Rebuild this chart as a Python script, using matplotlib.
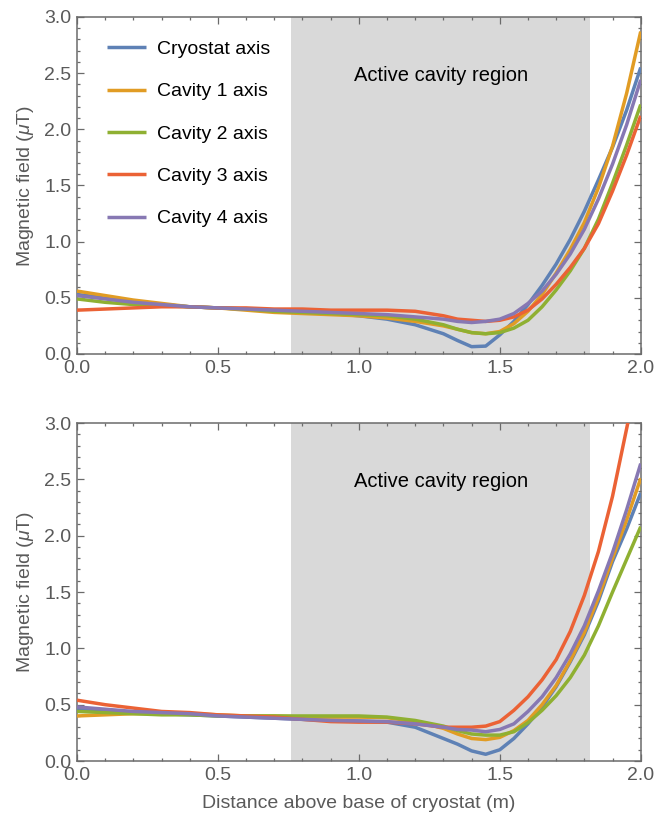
import matplotlib
matplotlib.use("Agg")
import matplotlib.pyplot as plt
from matplotlib.ticker import MultipleLocator
import numpy as np

plt.rcParams["font.family"] = ["Liberation Sans", "DejaVu Sans"]
plt.rcParams["mathtext.fontset"] = "custom"
plt.rcParams["mathtext.rm"] = "Liberation Sans"
plt.rcParams["mathtext.it"] = "Liberation Sans:italic"

# distance above base of cryostat (m)
dist = [0.0, 0.1, 0.2, 0.3, 0.4, 0.5, 0.6, 0.7, 0.8, 0.9, 1.0, 1.1, 1.2, 1.3,
        1.35, 1.4, 1.45, 1.5, 1.55, 1.6, 1.65, 1.7, 1.75, 1.8, 1.85, 1.9, 1.95, 2.0]

labels = ["Cryostat axis", "Cavity 1 axis", "Cavity 2 axis", "Cavity 3 axis", "Cavity 4 axis"]
colors = ["#5E81B5", "#E19C24", "#8FB032", "#EB6235", "#8778B3"]

# upper panel, field in uT
top_cryo = [0.53, 0.50, 0.46, 0.44, 0.42, 0.41, 0.40, 0.38, 0.37, 0.36, 0.34, 0.31, 0.26, 0.18,
            0.12, 0.065, 0.07, 0.17, 0.29, 0.44, 0.61, 0.80, 1.02, 1.27, 1.55, 1.84, 2.17, 2.55]
top_cav1 = [0.56, 0.52, 0.48, 0.45, 0.42, 0.41, 0.39, 0.37, 0.36, 0.35, 0.34, 0.32, 0.29, 0.25,
            0.22, 0.19, 0.18, 0.20, 0.27, 0.38, 0.53, 0.72, 0.93, 1.17, 1.48, 1.85, 2.32, 2.87]
top_cav2 = [0.49, 0.46, 0.44, 0.43, 0.42, 0.41, 0.40, 0.38, 0.37, 0.36, 0.35, 0.34, 0.31, 0.26,
            0.22, 0.19, 0.18, 0.19, 0.23, 0.30, 0.42, 0.57, 0.74, 0.94, 1.20, 1.52, 1.86, 2.22]
top_cav3 = [0.39, 0.40, 0.41, 0.42, 0.42, 0.41, 0.41, 0.40, 0.40, 0.39, 0.39, 0.39, 0.38, 0.34,
            0.31, 0.30, 0.29, 0.30, 0.33, 0.39, 0.49, 0.62, 0.77, 0.94, 1.16, 1.45, 1.77, 2.12]
top_cav4 = [0.52, 0.49, 0.46, 0.44, 0.42, 0.41, 0.40, 0.39, 0.38, 0.37, 0.36, 0.35, 0.33, 0.31,
            0.29, 0.28, 0.29, 0.31, 0.36, 0.45, 0.56, 0.71, 0.89, 1.11, 1.38, 1.69, 2.04, 2.44]

# lower panel, field in uT
bot_cryo = [0.46, 0.44, 0.43, 0.42, 0.41, 0.40, 0.39, 0.38, 0.37, 0.36, 0.355, 0.345, 0.30, 0.20,
            0.15, 0.09, 0.06, 0.10, 0.20, 0.33, 0.48, 0.66, 0.88, 1.12, 1.42, 1.77, 2.06, 2.38]
bot_cav1 = [0.40, 0.41, 0.42, 0.42, 0.42, 0.41, 0.40, 0.40, 0.39, 0.39, 0.39, 0.385, 0.35, 0.29,
            0.24, 0.20, 0.19, 0.21, 0.27, 0.36, 0.50, 0.67, 0.89, 1.14, 1.45, 1.80, 2.14, 2.51]
bot_cav2 = [0.44, 0.43, 0.42, 0.41, 0.41, 0.40, 0.40, 0.40, 0.40, 0.40, 0.40, 0.39, 0.36, 0.31,
            0.27, 0.24, 0.23, 0.23, 0.26, 0.34, 0.45, 0.58, 0.74, 0.94, 1.20, 1.50, 1.79, 2.08]
bot_cav3 = [0.54, 0.50, 0.47, 0.44, 0.43, 0.41, 0.40, 0.39, 0.37, 0.35, 0.345, 0.345, 0.33, 0.30,
            0.30, 0.30, 0.31, 0.35, 0.45, 0.57, 0.72, 0.90, 1.15, 1.47, 1.86, 2.35, 2.95, 3.55]
bot_cav4 = [0.48, 0.46, 0.44, 0.43, 0.42, 0.40, 0.39, 0.38, 0.37, 0.36, 0.355, 0.35, 0.33, 0.30,
            0.28, 0.275, 0.26, 0.28, 0.33, 0.44, 0.57, 0.74, 0.95, 1.20, 1.51, 1.85, 2.23, 2.64]

region = (0.76, 1.82)   # active cavity region (m)

FRAME = "#6b6b6b"
TICKTXT = "#5a5a5a"


def style_axes(ax):
    ax.set_xlim(0, 2.0)
    ax.set_ylim(0, 3.0)
    ax.xaxis.set_major_locator(MultipleLocator(0.5))
    ax.xaxis.set_minor_locator(MultipleLocator(0.1))
    ax.yaxis.set_major_locator(MultipleLocator(0.5))
    ax.yaxis.set_minor_locator(MultipleLocator(0.1))
    ax.xaxis.set_major_formatter(lambda v, p: "%.1f" % v)
    ax.yaxis.set_major_formatter(lambda v, p: "%.1f" % v)
    ax.tick_params(which="both", direction="in", top=True, right=True,
                   color=FRAME, labelcolor=TICKTXT, labelsize=14, width=0.9)
    ax.tick_params(which="major", length=5, pad=4)
    ax.tick_params(which="minor", length=2.5)
    for sp in ax.spines.values():
        sp.set_color(FRAME)
        sp.set_linewidth(1.1)
    ax.set_ylabel(r"Magnetic field ($\mu$T)", fontsize=14, color=TICKTXT, labelpad=6)
    ax.axvspan(region[0], region[1], color="#d9d9d9", lw=0, zorder=0)
    ax.text(1.29, 2.48, "Active cavity region", fontsize=14.5, color="black",
            ha="center", va="center")


fig = plt.figure(figsize=(6.54, 8.23), dpi=100)
ax1 = fig.add_axes([0.1177, 0.5699, 0.862, 0.4095])
ax2 = fig.add_axes([0.1177, 0.0753, 0.862, 0.4107])

for ax, series in ((ax1, [top_cryo, top_cav1, top_cav2, top_cav3, top_cav4]),
                   (ax2, [bot_cryo, bot_cav1, bot_cav2, bot_cav3, bot_cav4])):
    style_axes(ax)
    for vals, c, lab in zip(series, colors, labels):
        ax.plot(dist, vals, color=c, lw=2.5, label=lab, zorder=3,
                solid_joinstyle="round", solid_capstyle="butt")

ax1.legend(loc="upper left", bbox_to_anchor=(0.039, 0.953), frameon=False,
           fontsize=14, handlelength=2.0, handletextpad=0.6, labelspacing=1.27,
           borderaxespad=0)
ax2.set_xlabel("Distance above base of cryostat (m)", fontsize=14, color=TICKTXT, labelpad=8)

fig.savefig("out.png", facecolor="white")
